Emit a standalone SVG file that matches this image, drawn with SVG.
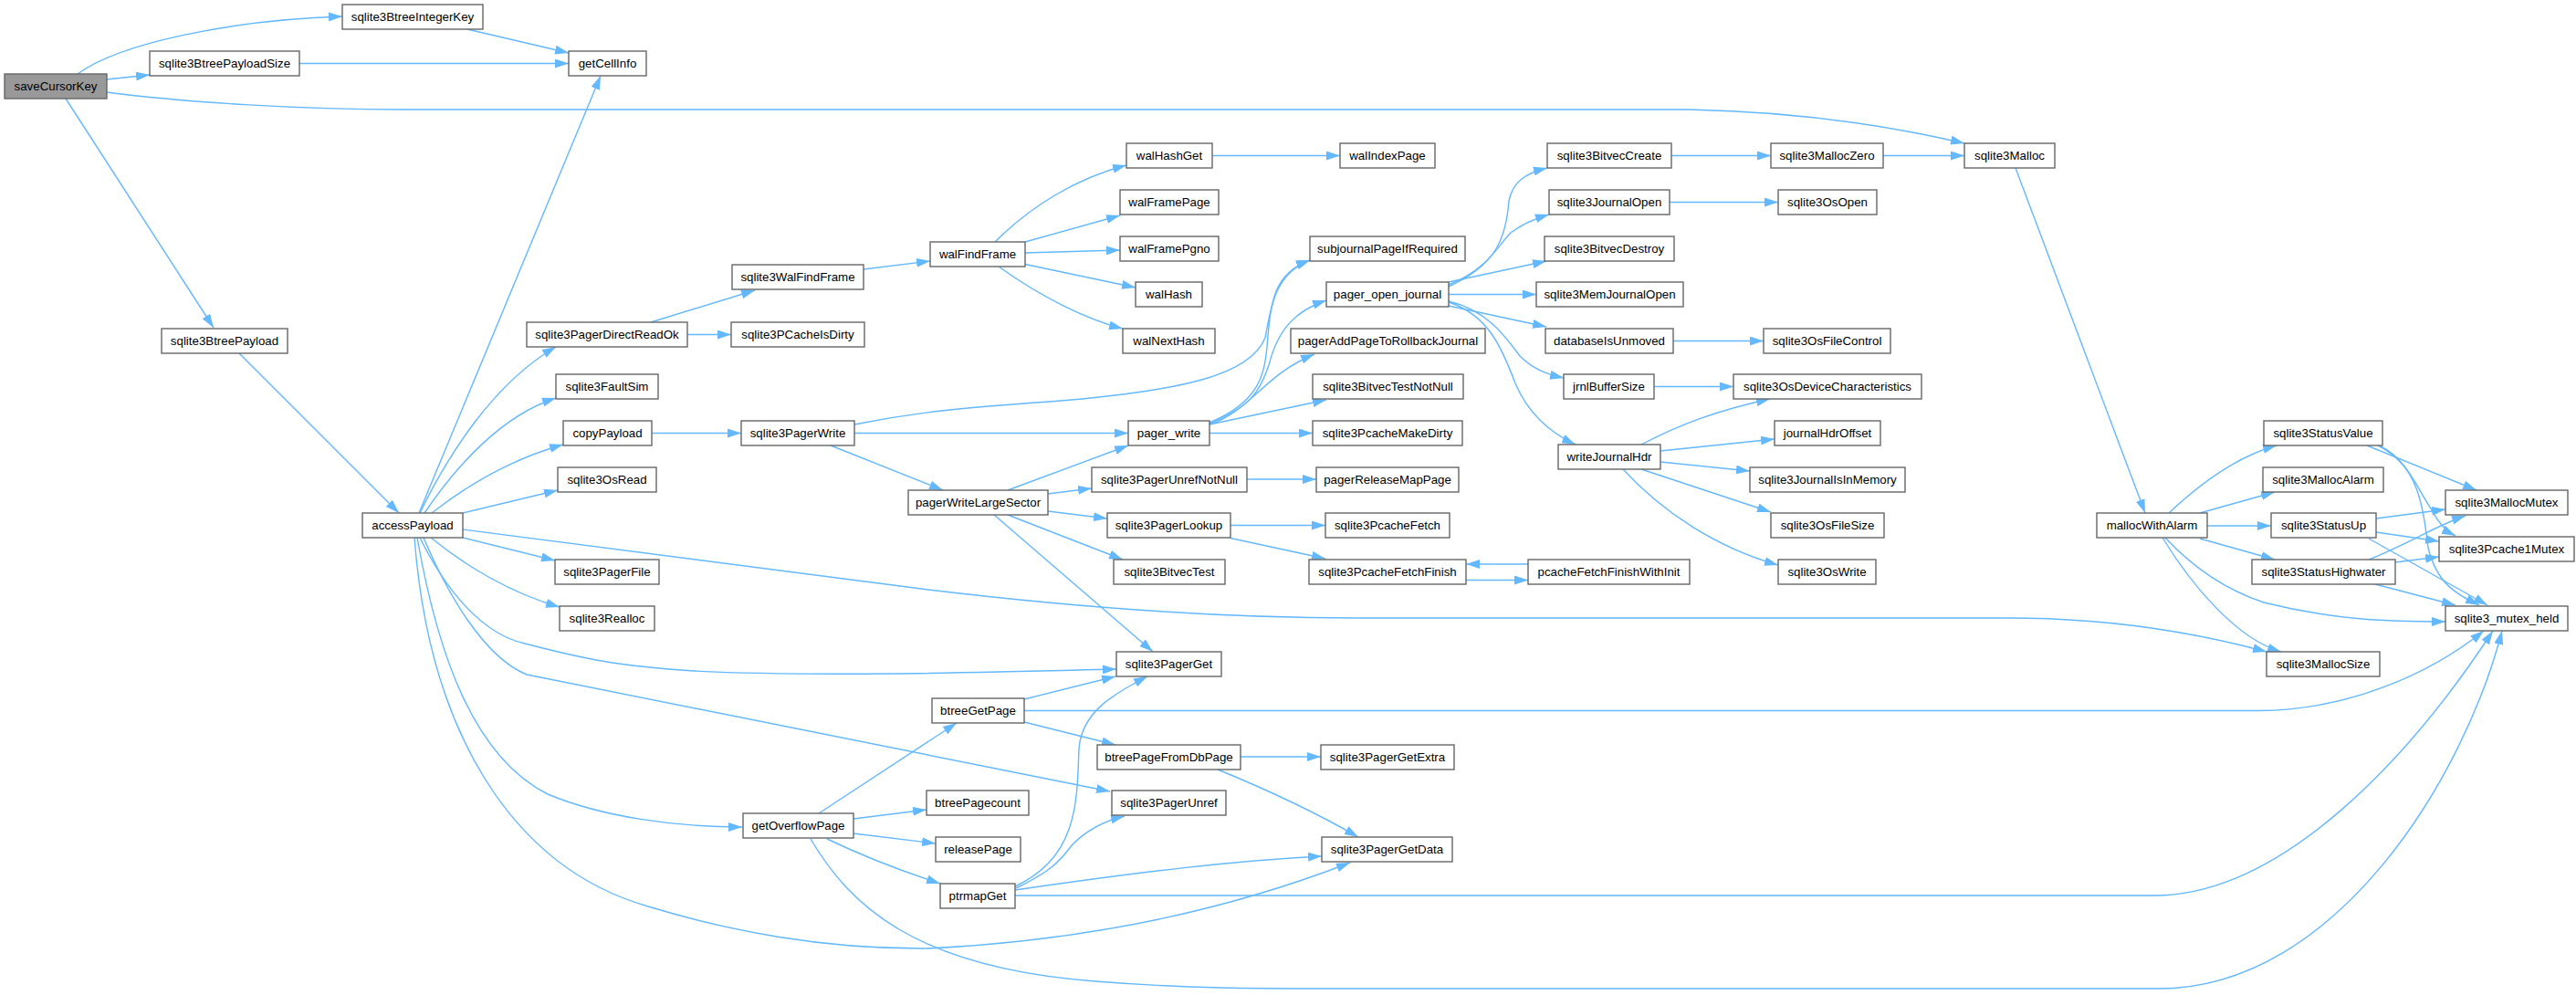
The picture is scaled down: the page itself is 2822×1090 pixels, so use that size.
<svg xmlns="http://www.w3.org/2000/svg" width="2822" height="1090" viewBox="0 0 2822 1090">
<style>
.n rect{fill:#fff;stroke:#666;stroke-width:1.4}
.root rect{fill:#999}
text{font-family:"Liberation Sans",Arial,sans-serif;font-size:13.3px;text-anchor:middle;fill:#000}
#edges path{fill:none;stroke:#63b8ff;stroke-width:1.4;marker-end:url(#a)}
</style>
<defs>
<marker id="a" markerUnits="userSpaceOnUse" markerWidth="15" markerHeight="10" viewBox="0 0 15 10" refX="15" refY="5" orient="auto">
<path d="M0,0 L15,5 L0,10 z" fill="#63b8ff" stroke="none"/>
</marker>
</defs>
<rect width="2822" height="1090" fill="#fff"/>
<g id="edges">
<path d="M85,81 C130,48 250,22 375,18"/>
<path d="M117,87 L164,82"/>
<path d="M117,101 C200,112 330,120 440,120 L1850,120 C1950,122 2050,133 2152,157"/>
<path d="M72,108 L234,359"/>
<path d="M512,32 L623,58"/>
<path d="M328,69.5 L623,69.5"/>
<path d="M262,387 L437,562"/>
<path d="M459,562 L658,83"/>
<path d="M460,562 C490,500 540,420 609,380"/>
<path d="M465,562 C500,510 550,455 609,436"/>
<path d="M473,562 C510,533 560,503 617,487"/>
<path d="M507,562 L611,537"/>
<path d="M507,589 L608,614"/>
<path d="M472,589 C510,620 560,650 613,665"/>
<path d="M507,580 L1017,646 C1200,668 1350,677 1486,677 L2200,677 C2320,677 2420,697 2483,714"/>
<path d="M460,589 C490,650 530,695 575,705 C640,722 680,730 760,735 C900,742 1100,736 1223,733"/>
<path d="M464,589 C490,650 530,720 577,739 L1216,867"/>
<path d="M457,589 C480,720 520,830 600,870 C660,895 740,906 813,906"/>
<path d="M454,589 C470,800 560,950 710,993 C800,1020 900,1040 1017,1039 C1200,1030 1350,995 1479,945"/>
<path d="M713,353 L827,318"/>
<path d="M753,366.5 L801,366.5"/>
<path d="M946,295 L1019,286"/>
<path d="M1090,265 C1130,225 1180,195 1234,181"/>
<path d="M1123,265 L1227,236"/>
<path d="M1123,277 L1227,274"/>
<path d="M1123,289.5 L1244,315"/>
<path d="M1094,292 C1140,325 1190,350 1230,360"/>
<path d="M1328,170.5 L1468,170.5"/>
<path d="M714,474.5 L812,474.5"/>
<path d="M910,488 L1033,537"/>
<path d="M936,474.5 L1236,474.5"/>
<path d="M936,465 C1000,452 1050,447 1150,440 C1300,428 1370,410 1386,370 C1392,340 1395,300 1435,285"/>
<path d="M1325,463 C1380,440 1385,410 1388,380 C1392,330 1395,300 1435,285"/>
<path d="M1325,464 C1370,445 1380,430 1390,400 C1400,360 1420,340 1453,329"/>
<path d="M1325,465 C1370,450 1385,410 1440,388"/>
<path d="M1325,465 L1453,438"/>
<path d="M1325,474.5 L1438,474.5"/>
<path d="M1104,537 L1236,488"/>
<path d="M1148,541 L1196,535"/>
<path d="M1148,560 L1213,568"/>
<path d="M1104,564 L1230,613"/>
<path d="M1089,564 L1263,714"/>
<path d="M1366,525 L1442,525"/>
<path d="M1348,575.5 L1452,575.5"/>
<path d="M1348,589.5 L1452,612"/>
<path d="M1606,635.5 L1674,635.5"/>
<path d="M1674,618 L1606,618"/>
<path d="M1587,314 C1640,290 1650,260 1653,220 C1657,200 1670,190 1695,184"/>
<path d="M1587,312 C1630,295 1640,270 1655,255 C1668,245 1680,240 1697,235"/>
<path d="M1587,309 L1694,286"/>
<path d="M1587,322.5 L1683,322.5"/>
<path d="M1587,335 L1694,358"/>
<path d="M1587,330 C1630,340 1650,370 1665,390 C1680,405 1695,410 1713,414"/>
<path d="M1587,331 C1630,345 1645,380 1660,420 C1675,455 1700,475 1726,487"/>
<path d="M1831,170.5 L1940,170.5"/>
<path d="M2063,170.5 L2152,170.5"/>
<path d="M1829,221.5 L1948,221.5"/>
<path d="M1833,373.5 L1932,373.5"/>
<path d="M1812,423.5 L1899,423.5"/>
<path d="M1798,487 C1840,465 1880,450 1939,437"/>
<path d="M1819,494 L1944,481"/>
<path d="M1819,506 L1917,516"/>
<path d="M1798,514 L1940,561"/>
<path d="M1778,514 C1820,560 1880,600 1948,619"/>
<path d="M2208,184 L2350,562"/>
<path d="M2376,562 C2410,530 2450,500 2494,488"/>
<path d="M2410,562 L2492,539"/>
<path d="M2418,576 L2488,576"/>
<path d="M2410,590 L2492,613"/>
<path d="M2372,589 C2410,630 2450,650 2480,660 C2560,680 2620,681 2679,681"/>
<path d="M2369,589 C2400,640 2450,700 2499,714"/>
<path d="M2593,488 L2713,537"/>
<path d="M2605,488 C2640,505 2650,540 2665,560 C2672,575 2680,582 2690,587"/>
<path d="M2608,489 C2650,510 2655,560 2660,600 C2670,640 2690,650 2716,663"/>
<path d="M2603,568 L2679,558"/>
<path d="M2603,583 L2672,593"/>
<path d="M2595,590 L2725,663"/>
<path d="M2595,613 C2640,595 2670,575 2701,565"/>
<path d="M2624,616 L2672,610"/>
<path d="M2602,640 L2690,663"/>
<path d="M1122,778.5 L2475,778.5 C2570,778 2660,740 2721,691"/>
<path d="M1112,981 L2360,981 C2500,981 2640,830 2731,691"/>
<path d="M888,919 C930,990 1000,1060 1200,1075 C1300,1083 1380,1083 1450,1083 L2365,1083 C2560,1083 2700,850 2741,691"/>
<path d="M1112,971 C1180,940 1180,880 1182,820 C1185,780 1220,760 1257,741"/>
<path d="M1113,973 C1150,955 1160,945 1175,925 C1195,905 1215,898 1232,894"/>
<path d="M1112,975 C1250,955 1350,943 1448,938"/>
<path d="M1122,766 L1222,741"/>
<path d="M1122,791 L1222,816"/>
<path d="M1359,829 L1447,829"/>
<path d="M1334,843 C1400,870 1450,895 1488,917"/>
<path d="M897,891 L1048,792"/>
<path d="M935,897 L1015,887"/>
<path d="M935,913 L1025,924"/>
<path d="M906,919 C950,940 990,955 1030,968"/>
</g>
<g id="saveCursorKey" class="n root"><rect x="5" y="81" width="112" height="27"/><text x="61" y="99.2">saveCursorKey</text></g>
<g id="sqlite3BtreeIntegerKey" class="n"><rect x="375" y="5" width="154" height="27"/><text x="452" y="23.2">sqlite3BtreeIntegerKey</text></g>
<g id="sqlite3BtreePayloadSize" class="n"><rect x="164" y="56" width="164" height="27"/><text x="246" y="74.2">sqlite3BtreePayloadSize</text></g>
<g id="getCellInfo" class="n"><rect x="623" y="56" width="85" height="27"/><text x="665.5" y="74.2">getCellInfo</text></g>
<g id="sqlite3BtreePayload" class="n"><rect x="177" y="360" width="138" height="27"/><text x="246" y="378.2">sqlite3BtreePayload</text></g>
<g id="accessPayload" class="n"><rect x="397" y="562" width="110" height="27"/><text x="452" y="580.2">accessPayload</text></g>
<g id="sqlite3PagerDirectReadOk" class="n"><rect x="577" y="353" width="176" height="27"/><text x="665" y="371.2">sqlite3PagerDirectReadOk</text></g>
<g id="sqlite3FaultSim" class="n"><rect x="609" y="410" width="112" height="27"/><text x="665" y="428.2">sqlite3FaultSim</text></g>
<g id="copyPayload" class="n"><rect x="617" y="461" width="97" height="27"/><text x="665.5" y="479.2">copyPayload</text></g>
<g id="sqlite3OsRead" class="n"><rect x="611" y="512" width="108" height="27"/><text x="665" y="530.2">sqlite3OsRead</text></g>
<g id="sqlite3PagerFile" class="n"><rect x="608" y="613" width="114" height="27"/><text x="665" y="631.2">sqlite3PagerFile</text></g>
<g id="sqlite3Realloc" class="n"><rect x="613" y="664" width="104" height="27"/><text x="665" y="682.2">sqlite3Realloc</text></g>
<g id="sqlite3WalFindFrame" class="n"><rect x="802" y="290" width="144" height="27"/><text x="874" y="308.2">sqlite3WalFindFrame</text></g>
<g id="sqlite3PCacheIsDirty" class="n"><rect x="801" y="353" width="146" height="27"/><text x="874" y="371.2">sqlite3PCacheIsDirty</text></g>
<g id="sqlite3PagerWrite" class="n"><rect x="812" y="461" width="124" height="27"/><text x="874" y="479.2">sqlite3PagerWrite</text></g>
<g id="walFindFrame" class="n"><rect x="1019" y="265" width="104" height="27"/><text x="1071" y="283.2">walFindFrame</text></g>
<g id="pagerWriteLargeSector" class="n"><rect x="995" y="537" width="153" height="27"/><text x="1071.5" y="555.2">pagerWriteLargeSector</text></g>
<g id="getOverflowPage" class="n"><rect x="814" y="891" width="121" height="27"/><text x="874.5" y="909.2">getOverflowPage</text></g>
<g id="btreeGetPage" class="n"><rect x="1021" y="765" width="101" height="27"/><text x="1071.5" y="783.2">btreeGetPage</text></g>
<g id="btreePagecount" class="n"><rect x="1015" y="866" width="112" height="27"/><text x="1071" y="884.2">btreePagecount</text></g>
<g id="releasePage" class="n"><rect x="1025" y="917" width="93" height="27"/><text x="1071.5" y="935.2">releasePage</text></g>
<g id="ptrmapGet" class="n"><rect x="1030" y="968" width="82" height="27"/><text x="1071" y="986.2">ptrmapGet</text></g>
<g id="walHashGet" class="n"><rect x="1234" y="157" width="94" height="27"/><text x="1281" y="175.2">walHashGet</text></g>
<g id="walFramePage" class="n"><rect x="1227" y="208" width="108" height="27"/><text x="1281" y="226.2">walFramePage</text></g>
<g id="walFramePgno" class="n"><rect x="1227" y="259" width="108" height="27"/><text x="1281" y="277.2">walFramePgno</text></g>
<g id="walHash" class="n"><rect x="1244" y="309" width="73" height="27"/><text x="1280.5" y="327.2">walHash</text></g>
<g id="walNextHash" class="n"><rect x="1230" y="360" width="101" height="27"/><text x="1280.5" y="378.2">walNextHash</text></g>
<g id="pager_write" class="n"><rect x="1236" y="461" width="89" height="27"/><text x="1280.5" y="479.2">pager_write</text></g>
<g id="sqlite3PagerUnrefNotNull" class="n"><rect x="1196" y="512" width="170" height="27"/><text x="1281" y="530.2">sqlite3PagerUnrefNotNull</text></g>
<g id="sqlite3PagerLookup" class="n"><rect x="1213" y="562" width="135" height="27"/><text x="1280.5" y="580.2">sqlite3PagerLookup</text></g>
<g id="sqlite3BitvecTest" class="n"><rect x="1220" y="613" width="122" height="27"/><text x="1281" y="631.2">sqlite3BitvecTest</text></g>
<g id="sqlite3PagerGet" class="n"><rect x="1223" y="714" width="115" height="27"/><text x="1280.5" y="732.2">sqlite3PagerGet</text></g>
<g id="btreePageFromDbPage" class="n"><rect x="1202" y="816" width="157" height="27"/><text x="1280.5" y="834.2">btreePageFromDbPage</text></g>
<g id="sqlite3PagerUnref" class="n"><rect x="1218" y="866" width="125" height="27"/><text x="1280.5" y="884.2">sqlite3PagerUnref</text></g>
<g id="walIndexPage" class="n"><rect x="1468" y="157" width="104" height="27"/><text x="1520" y="175.2">walIndexPage</text></g>
<g id="subjournalPageIfRequired" class="n"><rect x="1435" y="259" width="170" height="27"/><text x="1520" y="277.2">subjournalPageIfRequired</text></g>
<g id="pager_open_journal" class="n"><rect x="1453" y="309" width="134" height="27"/><text x="1520" y="327.2">pager_open_journal</text></g>
<g id="pagerAddPageToRollbackJournal" class="n"><rect x="1414" y="360" width="213" height="27"/><text x="1520.5" y="378.2">pagerAddPageToRollbackJournal</text></g>
<g id="sqlite3BitvecTestNotNull" class="n"><rect x="1438" y="410" width="165" height="27"/><text x="1520.5" y="428.2">sqlite3BitvecTestNotNull</text></g>
<g id="sqlite3PcacheMakeDirty" class="n"><rect x="1438" y="461" width="164" height="27"/><text x="1520" y="479.2">sqlite3PcacheMakeDirty</text></g>
<g id="pagerReleaseMapPage" class="n"><rect x="1442" y="512" width="156" height="27"/><text x="1520" y="530.2">pagerReleaseMapPage</text></g>
<g id="sqlite3PcacheFetch" class="n"><rect x="1452" y="562" width="136" height="27"/><text x="1520" y="580.2">sqlite3PcacheFetch</text></g>
<g id="sqlite3PcacheFetchFinish" class="n"><rect x="1434" y="613" width="172" height="27"/><text x="1520" y="631.2">sqlite3PcacheFetchFinish</text></g>
<g id="sqlite3PagerGetExtra" class="n"><rect x="1447" y="816" width="146" height="27"/><text x="1520" y="834.2">sqlite3PagerGetExtra</text></g>
<g id="sqlite3PagerGetData" class="n"><rect x="1448" y="917" width="143" height="27"/><text x="1519.5" y="935.2">sqlite3PagerGetData</text></g>
<g id="sqlite3BitvecCreate" class="n"><rect x="1695" y="157" width="136" height="27"/><text x="1763" y="175.2">sqlite3BitvecCreate</text></g>
<g id="sqlite3JournalOpen" class="n"><rect x="1697" y="208" width="132" height="27"/><text x="1763" y="226.2">sqlite3JournalOpen</text></g>
<g id="sqlite3BitvecDestroy" class="n"><rect x="1692" y="259" width="142" height="27"/><text x="1763" y="277.2">sqlite3BitvecDestroy</text></g>
<g id="sqlite3MemJournalOpen" class="n"><rect x="1683" y="309" width="161" height="27"/><text x="1763.5" y="327.2">sqlite3MemJournalOpen</text></g>
<g id="databaseIsUnmoved" class="n"><rect x="1693" y="360" width="140" height="27"/><text x="1763" y="378.2">databaseIsUnmoved</text></g>
<g id="jrnlBufferSize" class="n"><rect x="1713" y="410" width="99" height="27"/><text x="1762.5" y="428.2">jrnlBufferSize</text></g>
<g id="writeJournalHdr" class="n"><rect x="1707" y="487" width="112" height="27"/><text x="1763" y="505.2">writeJournalHdr</text></g>
<g id="pcacheFetchFinishWithInit" class="n"><rect x="1674" y="613" width="177" height="27"/><text x="1762.5" y="631.2">pcacheFetchFinishWithInit</text></g>
<g id="sqlite3MallocZero" class="n"><rect x="1940" y="157" width="123" height="27"/><text x="2001.5" y="175.2">sqlite3MallocZero</text></g>
<g id="sqlite3OsOpen" class="n"><rect x="1948" y="208" width="108" height="27"/><text x="2002" y="226.2">sqlite3OsOpen</text></g>
<g id="sqlite3OsFileControl" class="n"><rect x="1932" y="360" width="139" height="27"/><text x="2001.5" y="378.2">sqlite3OsFileControl</text></g>
<g id="sqlite3OsDeviceCharacteristics" class="n"><rect x="1899" y="410" width="206" height="27"/><text x="2002" y="428.2">sqlite3OsDeviceCharacteristics</text></g>
<g id="journalHdrOffset" class="n"><rect x="1944" y="461" width="116" height="27"/><text x="2002" y="479.2">journalHdrOffset</text></g>
<g id="sqlite3JournalIsInMemory" class="n"><rect x="1917" y="512" width="170" height="27"/><text x="2002" y="530.2">sqlite3JournalIsInMemory</text></g>
<g id="sqlite3OsFileSize" class="n"><rect x="1940" y="562" width="124" height="27"/><text x="2002" y="580.2">sqlite3OsFileSize</text></g>
<g id="sqlite3OsWrite" class="n"><rect x="1948" y="613" width="107" height="27"/><text x="2001.5" y="631.2">sqlite3OsWrite</text></g>
<g id="sqlite3Malloc" class="n"><rect x="2152" y="157" width="99" height="27"/><text x="2201.5" y="175.2">sqlite3Malloc</text></g>
<g id="mallocWithAlarm" class="n"><rect x="2297" y="562" width="121" height="27"/><text x="2357.5" y="580.2">mallocWithAlarm</text></g>
<g id="sqlite3StatusValue" class="n"><rect x="2480" y="461" width="130" height="27"/><text x="2545" y="479.2">sqlite3StatusValue</text></g>
<g id="sqlite3MallocAlarm" class="n"><rect x="2479" y="512" width="132" height="27"/><text x="2545" y="530.2">sqlite3MallocAlarm</text></g>
<g id="sqlite3StatusUp" class="n"><rect x="2488" y="562" width="115" height="27"/><text x="2545.5" y="580.2">sqlite3StatusUp</text></g>
<g id="sqlite3StatusHighwater" class="n"><rect x="2467" y="613" width="157" height="27"/><text x="2545.5" y="631.2">sqlite3StatusHighwater</text></g>
<g id="sqlite3MallocSize" class="n"><rect x="2483" y="714" width="124" height="27"/><text x="2545" y="732.2">sqlite3MallocSize</text></g>
<g id="sqlite3MallocMutex" class="n"><rect x="2679" y="537" width="134" height="27"/><text x="2746" y="555.2">sqlite3MallocMutex</text></g>
<g id="sqlite3Pcache1Mutex" class="n"><rect x="2672" y="588" width="148" height="27"/><text x="2746" y="606.2">sqlite3Pcache1Mutex</text></g>
<g id="sqlite3_mutex_held" class="n"><rect x="2679" y="664" width="134" height="27"/><text x="2746" y="682.2">sqlite3_mutex_held</text></g>
</svg>
